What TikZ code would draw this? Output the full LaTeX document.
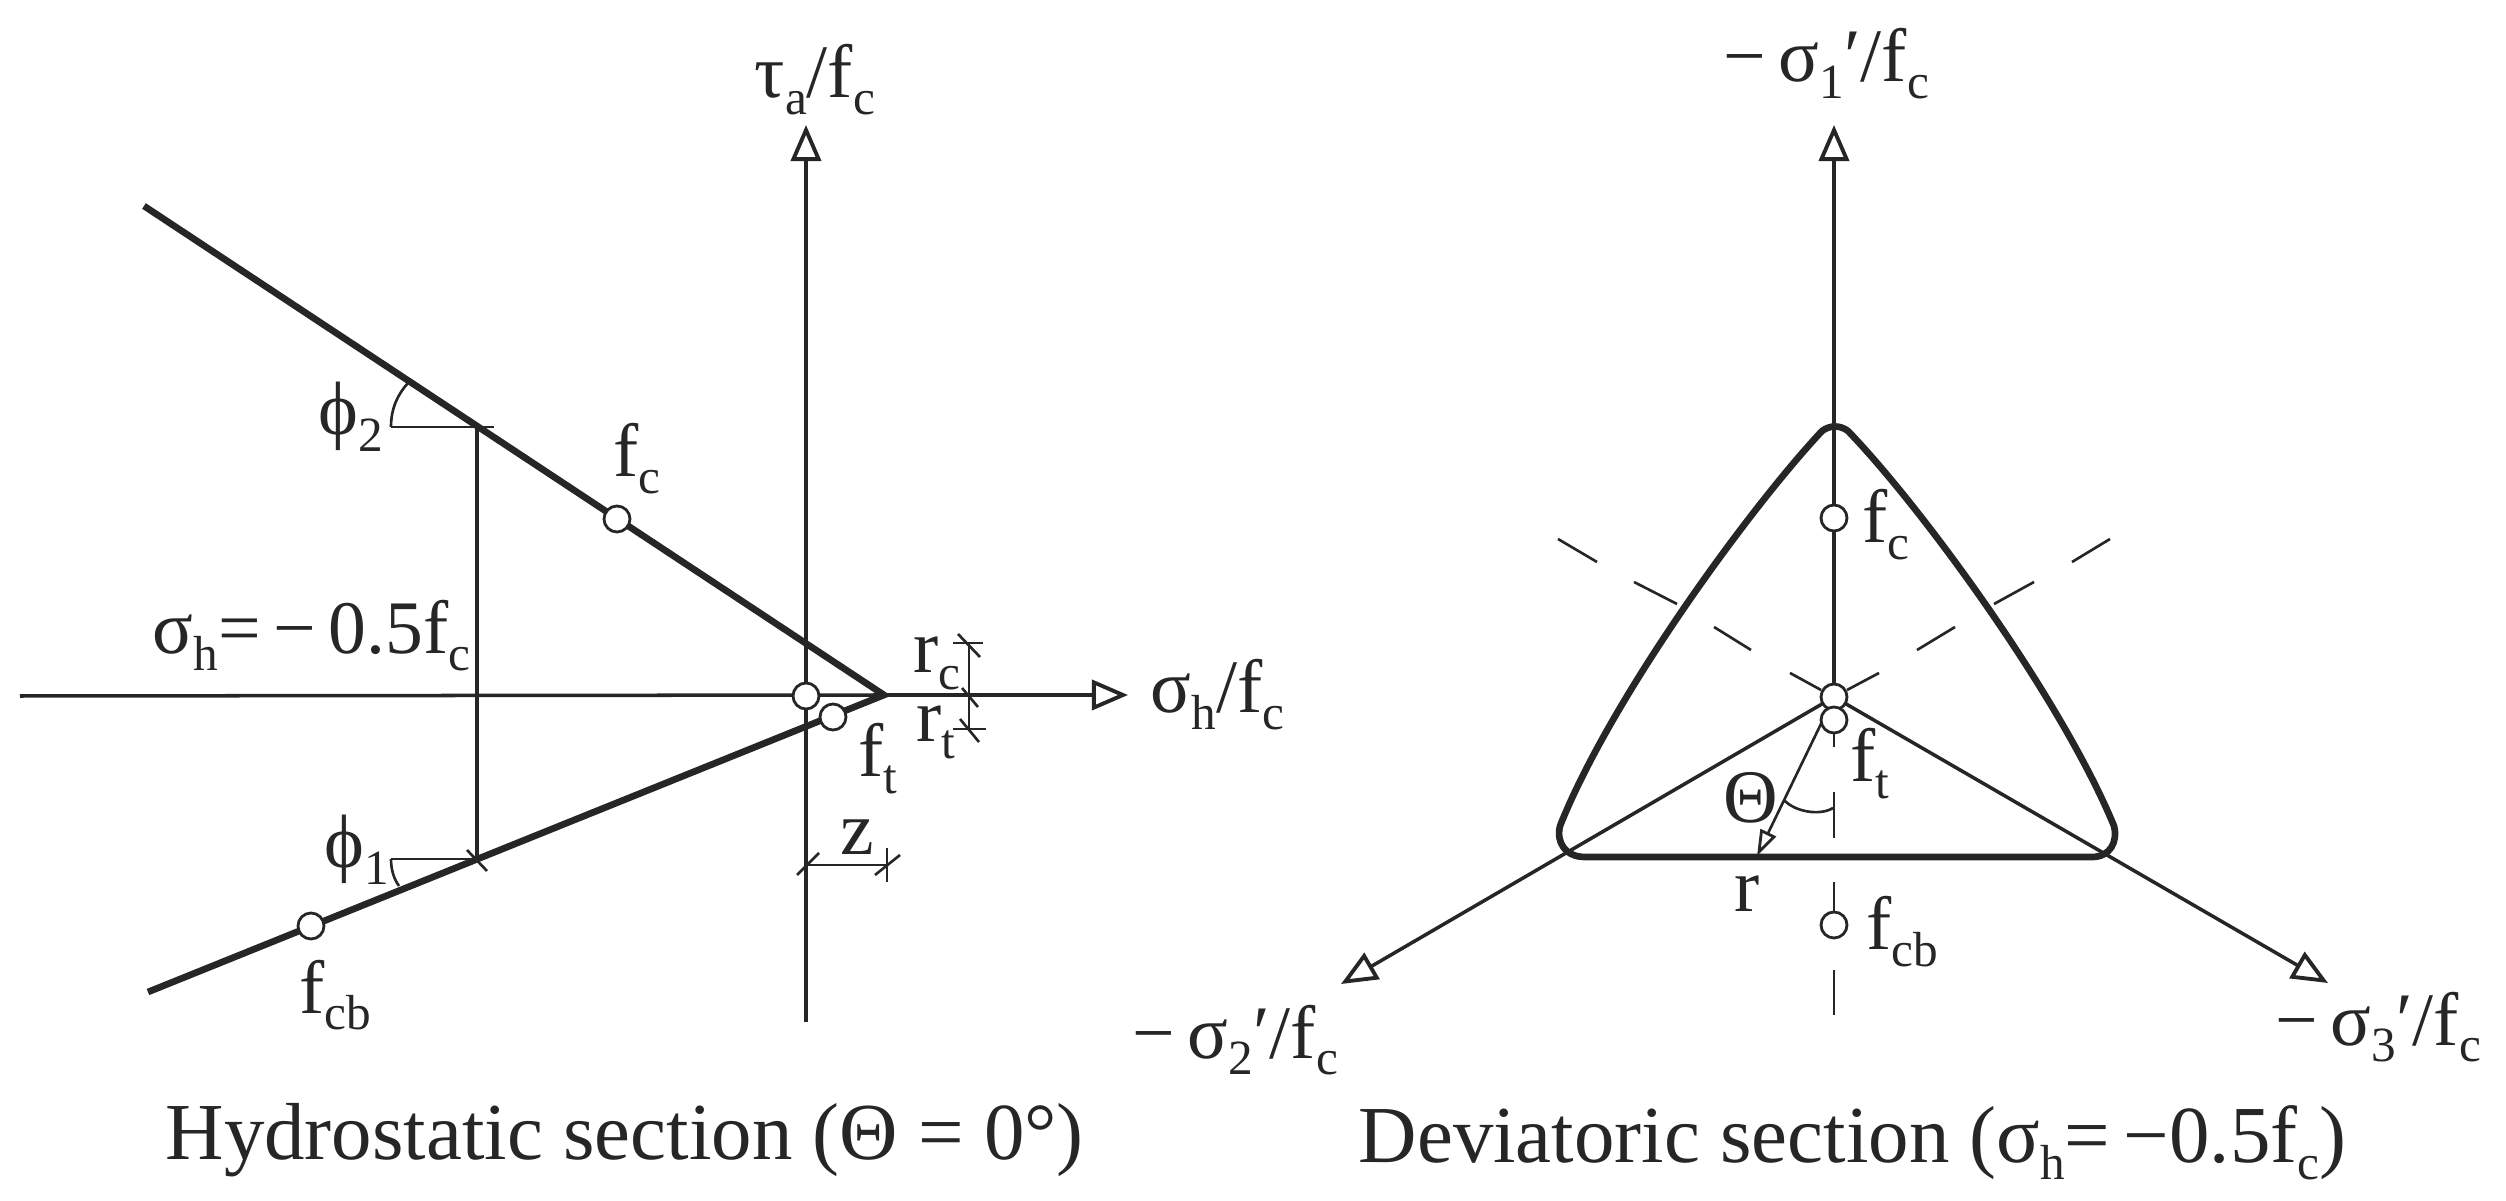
\documentclass[tikz,border=0pt]{standalone}
\usepackage{fontspec}
\setmainfont{Liberation Serif}
\usetikzlibrary{arrows.meta}
\newcommand{\sbs}[1]{\raisebox{-.22em}{\fontsize{14}{14}\selectfont #1}}

\begin{document}
\begin{tikzpicture}[
   x=0.01cm, y=-0.01cm,
   ink/.style={color=black!85},
   axis/.style={ink,line width=1pt},
   arrowaxis/.style={axis,-{Triangle[open,length=0.36cm,width=0.3cm,line width=1.1pt]}},
   thick line/.style={ink,line width=1.9pt},
   thin line/.style={ink,line width=0.75pt},
   point/.style={ink,draw,circle,fill=white,line width=0.8pt,inner sep=0pt,minimum size=0.26cm},
   lbl/.style={ink,inner sep=0pt,anchor=base west,font=\fontsize{21.5}{26}\selectfont},
   caption/.style={lbl,font=\fontsize{23}{26}\selectfont}]

\useasboundingbox (0,0) rectangle (2506,1201);

% hydrostatic section
\coordinate (hleft) at (20,696);
\coordinate (htip) at (1128,695);
\coordinate (hbottom) at (806,1022);
\coordinate (htop) at (806,125);
\coordinate (apex) at (884,695);
\coordinate (upper) at (144,206);
\coordinate (lower) at (148,992);
\coordinate (sectop) at (477,427);
\coordinate (secbot) at (477,859);

\draw[axis] (hleft) -- (apex);
\draw[arrowaxis] (apex) -- (htip);
\draw[arrowaxis] (hbottom) -- (htop);
\draw[thick line] (upper) -- (apex) -- (lower);
\draw[axis] (sectop) -- (secbot);

\draw[thin line] (391,427) -- (494,427);
\draw[thin line] (391,427) .. controls (391,408) and (398,394) .. (408,383);
\draw[thin line] (391,859) -- (secbot);
\draw[thin line] (391,859) .. controls (391,870) and (394,879) .. (399,886);
\draw[thin line] (467,850) -- (487,871);

% r_c, r_t and z dimensions
\draw[thin line] (969,643) -- (969,729);
\draw[thin line] (953,643) -- (983,643);
\draw[thin line] (953,729) -- (986,729);
\draw[thin line] (958,634) -- (980,657);
\draw[thin line] (962,688) -- (978,707);
\draw[thin line] (960,719) -- (979,742);
\draw[thin line] (806,865) -- (887,865);
\draw[thin line] (887,848) -- (887,882);
\draw[thin line] (797,875) -- (819,853);
\draw[thin line] (875,875) -- (900,855);

\node[point] (hfc) at (617,519) {};
\node[point] (hfcb) at (311,926) {};
\node[point] (horigin) at (806,696) {};
\node[point] (hft) at (833,717) {};

\node[lbl] (tauaxis) at (754,98) {τ\sbs{a}/f\sbs{c}};
\node[lbl] (sigaxis) at (1150,713) {σ\sbs{h}/f\sbs{c}};
\node[lbl] (sighval) at (152,654) {σ\sbs{h}=\,−\,0.5f\sbs{c}};
\node[lbl] (phitwo) at (318,435) {ϕ\sbs{2}};
\node[lbl] (phione) at (324,868) {ϕ\sbs{1}};
\node[lbl] (hfclab) at (613,477) {f\sbs{c}};
\node[lbl] (hfcblab) at (299,1013) {f\sbs{cb}};
\node[lbl] (hftlab) at (858,777) {f\sbs{t}};
\node[lbl] (rclab) at (913,673) {r\sbs{c}};
\node[lbl] (rtlab) at (916,742) {r\sbs{t}};
\node[lbl] (zlab) at (840,855) {z};
\node[caption] (hcaption) at (165,1159) {Hydrostatic section (Θ = 0°)};

% deviatoric section
\coordinate (center) at (1834,697);
\coordinate (onetip) at (1834,125);
\coordinate (twotip) at (1341,984);
\coordinate (threetip) at (2328,983);
\coordinate (rtip) at (1757,856);

\draw[arrowaxis] (center) -- (onetip);
\draw[arrowaxis] (center) -- (twotip);
\draw[arrowaxis] (center) -- (threetip);
\draw[thin line,-{Triangle[open,length=0.26cm,width=0.17cm,line width=0.8pt]}] (center) -- (rtip);

\foreach \ya/\yb in {733/747,792/838,882/915,970/1015}
   \draw[thin line] (1834,\ya) -- (1834,\yb);
\foreach \xa/\ya/\xb/\yb in {1558/539/1597/562,1634/582/1677/604,1714/627/1751/650,1790/673/1821/690,
      2110/539/2072/562,2034/582/1994/604,1955/627/1917/650,1879/673/1847/690}
   \draw[thin line] (\xa,\ya) -- (\xb,\yb);

\draw[thick line,line join=round] (1822,431) .. controls (1748,510) and (1610,700) .. (1560,826)
   .. controls (1556,842) and (1565,857) .. (1585,857) -- (2092,857)
   .. controls (2110,857) and (2118,842) .. (2114,826)
   .. controls (2062,700) and (1924,510) .. (1848,431)
   .. controls (1840,425) and (1830,425) .. cycle;

\draw[thin line] (1784,800) .. controls (1795,812) and (1820,816) .. (1833,808);

\node[point] (dorigin) at (center) {};
\node[point] (dfc) at (1834,518) {};
\node[point] (dft) at (1834,720) {};
\node[point] (dfcb) at (1834,925) {};

\node[lbl] (oneaxis) at (1723,82) {−\,σ\sbs{1}′/f\sbs{c}};
\node[lbl] (twoaxis) at (1132,1058) {−\,σ\sbs{2}′/f\sbs{c}};
\node[lbl] (threeaxis) at (2275,1045) {−\,σ\sbs{3}′/f\sbs{c}};
\node[lbl] (dfclab) at (1862,543) {f\sbs{c}};
\node[lbl] (dftlab) at (1850,782) {f\sbs{t}};
\node[lbl] (dfcblab) at (1866,950) {f\sbs{cb}};
\node[lbl] (rlab) at (1734,912) {r};
\node[lbl] (thetalab) at (1723,823) {Θ};
\node[caption] (dcaption) at (1358,1162) {Deviatoric section (σ\sbs{h}=\,−0.5f\sbs{c})};
\end{tikzpicture}
\end{document}
